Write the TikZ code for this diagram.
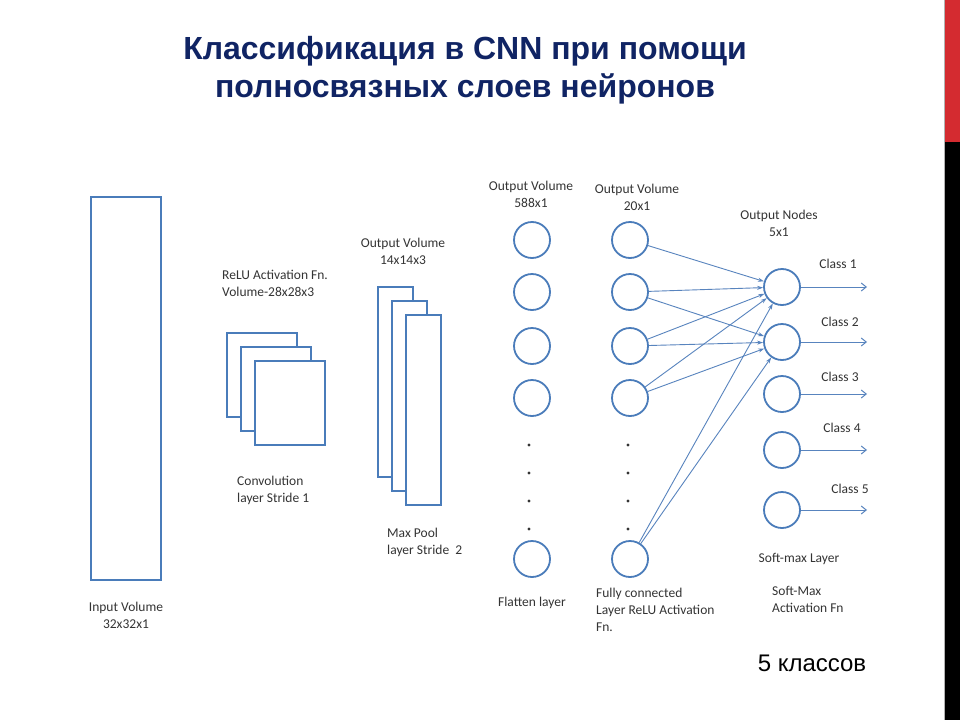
\documentclass[tikz,border=0pt]{standalone}
\usepackage{fontspec}
\setmainfont{Carlito}
\newfontfamily\titlefont{Liberation Sans}
\usepackage{tikz}
\usetikzlibrary{arrows.meta}
\usetikzlibrary{positioning}
\usepackage{xcolor}
\definecolor{boxblue}{RGB}{74,124,186}
\definecolor{lineblue}{RGB}{88,132,190}
\definecolor{titleblue}{RGB}{16,36,100}
\definecolor{labelgray}{RGB}{52,52,52}
\definecolor{barred}{RGB}{212,43,48}

\begin{document}
\begin{tikzpicture}[x=1pt, y=-1pt,
    layerbox/.style={draw=boxblue, line width=2pt, fill=white},
    neuron/.style={circle, draw=boxblue, line width=1.8pt, minimum size=36pt, inner sep=0pt},
    conn/.style={draw=lineblue, line width=0.9pt, -{Stealth[length=6pt,width=4pt]}},
    outarrow/.style={draw=lineblue, line width=1pt, -{Straight Barb[length=5pt,width=8pt]}},
    lbl/.style={text=labelgray, font=\fontsize{13.5}{17}\selectfont, inner sep=0pt}]
    \useasboundingbox (0,0) rectangle (960,720);
    \fill[white] (0,0) rectangle (960,720);
    \fill[barred] (945,0) rectangle (960,142);
    \fill[black] (945,142) rectangle (960,720);
    \draw[gray!60, line width=0.6pt] (944.5,0) -- (944.5,720);

    \node[text=titleblue, font=\titlefont\bfseries\fontsize{32}{38}\selectfont, align=center]
        (title) at (465,70) {Классификация в CNN при помощи\\полносвязных слоев нейронов};

    \draw[layerbox] (91,197) rectangle (161,580);
    \foreach \d in {0,14,28} {
        \draw[layerbox] (227+\d,333+\d) rectangle ++(70,84);
        \draw[layerbox] (378+\d,287+\d) rectangle ++(35,190);
    }

    \foreach \y [count=\i] in {240,292,346,398,559} {
        \node[neuron] (f\i) at (532,\y) {};
        \node[neuron] (h\i) at (630,\y) {};
    }
    \foreach \y in {445,473,501,529} {
        \fill[labelgray] (529,\y) circle (1.6);
        \fill[labelgray] (628,\y) circle (1.6);
    }
    \foreach \y/\lx/\ly [count=\i] in {287/838/264, 342/840/322, 394/840/377,
                                        450/842/428, 510/850/489} {
        \node[neuron] (o\i) at (782,\y) {};
        \coordinate (c\i) at (867,\y);
        \draw[outarrow] (o\i) -- (c\i);
        \node[lbl] (cls\i) at (\lx,\ly) {Class \i};
    }
    \foreach \i/\j in {1/1, 2/1, 2/2, 3/1, 3/2, 4/1, 4/2, 5/1, 5/2}
        \draw[conn] (h\i) -- (o\j);

    \node[lbl, align=center] (inlbl) at (126,615) {Input Volume\\32x32x1};
    \node[lbl, align=left, anchor=west] (relulbl) at (222,283) {ReLU Activation Fn.\\ Volume-28x28x3};
    \node[lbl, align=left, anchor=west] (convlbl) at (237,490) {Convolution\\layer Stride 1};
    \node[lbl, align=center] (poolout) at (403,251) {Output Volume\\14x14x3};
    \node[lbl, align=left, anchor=west] (poollbl) at (387,542) {Max Pool\\layer Stride~~2};
    \node[lbl, align=center] (flatout) at (531,194) {Output Volume\\588x1};
    \node[lbl] (flatlbl) at (532,603) {Flatten layer};
    \node[lbl, align=center] (fcout) at (637,197) {Output Volume\\20x1};
    \node[lbl, align=left, anchor=west] (fclbl) at (596,610) {Fully connected\\Layer ReLU Activation\\Fn.};
    \node[lbl, align=center] (outout) at (779,223) {Output Nodes\\5x1};
    \node[lbl] (smlbl) at (799,559) {Soft-max Layer};
    \node[lbl, align=left, anchor=west] (smact) at (772,599) {Soft-Max\\Activation Fn};

    \node[font=\titlefont\fontsize{24}{28}\selectfont] (numcls) at (812,663) {5 классов};
\end{tikzpicture}
\end{document}
